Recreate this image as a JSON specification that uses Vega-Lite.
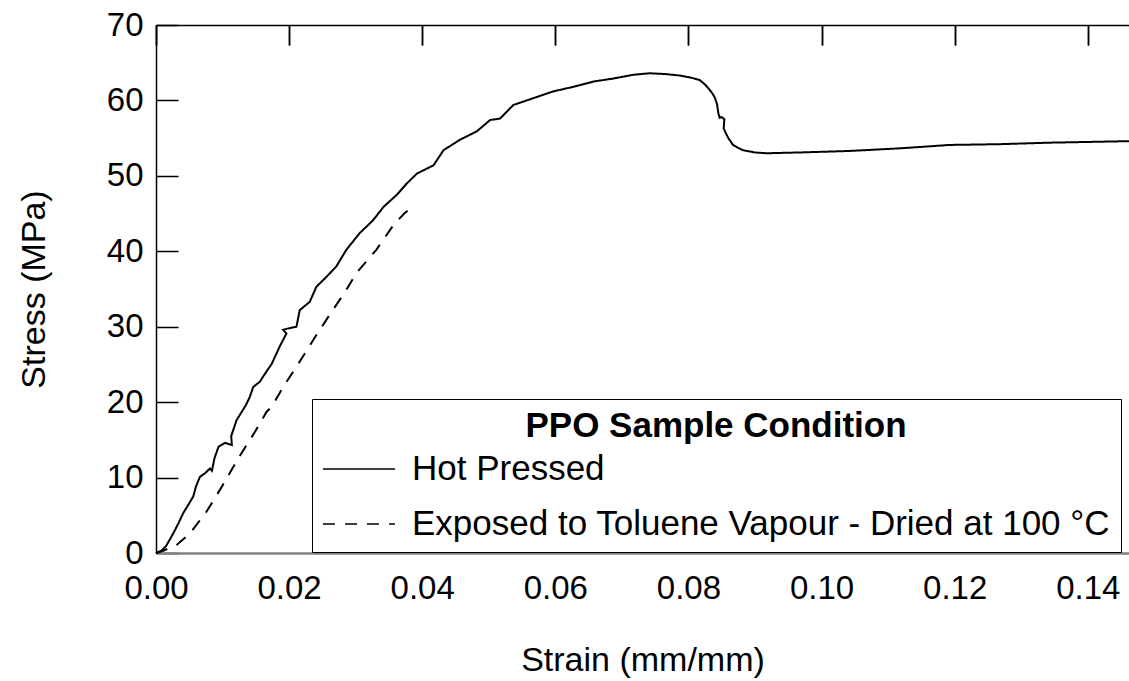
{
  "$schema": "https://vega.github.io/schema/vega-lite/v6.json",
  "width": 973,
  "height": 528,
  "autosize": {"type": "none"},
  "padding": {"left": 156, "top": 25, "right": 0, "bottom": 128},
  "background": "white",
  "config": {
    "view": {"stroke": null},
    "font": "Liberation Sans",
    "axis": {"grid": false, "labelColor": "black", "titleColor": "black", "titleFontWeight": "normal", "tickColor": "black", "domainColor": "black"}
  },
  "datasets": {
    "curves": [
      {"series": "Hot Pressed", "i": 1, "strain": 0.0, "stress": 0.0},
      {"series": "Hot Pressed", "i": 2, "strain": 0.0008, "stress": 0.3},
      {"series": "Hot Pressed", "i": 3, "strain": 0.0015, "stress": 0.9},
      {"series": "Hot Pressed", "i": 4, "strain": 0.0026, "stress": 2.6},
      {"series": "Hot Pressed", "i": 5, "strain": 0.0034, "stress": 4.0},
      {"series": "Hot Pressed", "i": 6, "strain": 0.0041, "stress": 5.3},
      {"series": "Hot Pressed", "i": 7, "strain": 0.005, "stress": 6.6},
      {"series": "Hot Pressed", "i": 8, "strain": 0.0056, "stress": 7.5},
      {"series": "Hot Pressed", "i": 9, "strain": 0.006, "stress": 8.8},
      {"series": "Hot Pressed", "i": 10, "strain": 0.0066, "stress": 10.1},
      {"series": "Hot Pressed", "i": 11, "strain": 0.0074, "stress": 10.6},
      {"series": "Hot Pressed", "i": 12, "strain": 0.0081, "stress": 11.2},
      {"series": "Hot Pressed", "i": 13, "strain": 0.0084, "stress": 10.9},
      {"series": "Hot Pressed", "i": 14, "strain": 0.0088, "stress": 12.6},
      {"series": "Hot Pressed", "i": 15, "strain": 0.0094, "stress": 14.1},
      {"series": "Hot Pressed", "i": 16, "strain": 0.0104, "stress": 14.6},
      {"series": "Hot Pressed", "i": 17, "strain": 0.0114, "stress": 14.3},
      {"series": "Hot Pressed", "i": 18, "strain": 0.0113, "stress": 15.5},
      {"series": "Hot Pressed", "i": 19, "strain": 0.0121, "stress": 17.6},
      {"series": "Hot Pressed", "i": 20, "strain": 0.0128, "stress": 18.6},
      {"series": "Hot Pressed", "i": 21, "strain": 0.0135, "stress": 19.6},
      {"series": "Hot Pressed", "i": 22, "strain": 0.0141, "stress": 20.7},
      {"series": "Hot Pressed", "i": 23, "strain": 0.0146, "stress": 22.0},
      {"series": "Hot Pressed", "i": 24, "strain": 0.0156, "stress": 22.7},
      {"series": "Hot Pressed", "i": 25, "strain": 0.0161, "stress": 23.4},
      {"series": "Hot Pressed", "i": 26, "strain": 0.0174, "stress": 25.1},
      {"series": "Hot Pressed", "i": 27, "strain": 0.0186, "stress": 27.4},
      {"series": "Hot Pressed", "i": 28, "strain": 0.0196, "stress": 29.1},
      {"series": "Hot Pressed", "i": 29, "strain": 0.0191, "stress": 29.6},
      {"series": "Hot Pressed", "i": 30, "strain": 0.02, "stress": 29.8},
      {"series": "Hot Pressed", "i": 31, "strain": 0.0211, "stress": 30.0},
      {"series": "Hot Pressed", "i": 32, "strain": 0.0216, "stress": 32.2},
      {"series": "Hot Pressed", "i": 33, "strain": 0.0231, "stress": 33.3},
      {"series": "Hot Pressed", "i": 34, "strain": 0.0241, "stress": 35.3},
      {"series": "Hot Pressed", "i": 35, "strain": 0.0256, "stress": 36.6},
      {"series": "Hot Pressed", "i": 36, "strain": 0.0271, "stress": 38.0},
      {"series": "Hot Pressed", "i": 37, "strain": 0.0286, "stress": 40.2},
      {"series": "Hot Pressed", "i": 38, "strain": 0.0306, "stress": 42.4},
      {"series": "Hot Pressed", "i": 39, "strain": 0.0326, "stress": 44.1},
      {"series": "Hot Pressed", "i": 40, "strain": 0.0342, "stress": 45.9},
      {"series": "Hot Pressed", "i": 41, "strain": 0.0362, "stress": 47.5},
      {"series": "Hot Pressed", "i": 42, "strain": 0.0377, "stress": 49.0},
      {"series": "Hot Pressed", "i": 43, "strain": 0.0392, "stress": 50.3},
      {"series": "Hot Pressed", "i": 44, "strain": 0.0417, "stress": 51.4},
      {"series": "Hot Pressed", "i": 45, "strain": 0.0432, "stress": 53.4},
      {"series": "Hot Pressed", "i": 46, "strain": 0.0457, "stress": 54.8},
      {"series": "Hot Pressed", "i": 47, "strain": 0.0482, "stress": 55.9},
      {"series": "Hot Pressed", "i": 48, "strain": 0.0502, "stress": 57.4},
      {"series": "Hot Pressed", "i": 49, "strain": 0.0517, "stress": 57.6},
      {"series": "Hot Pressed", "i": 50, "strain": 0.0537, "stress": 59.4},
      {"series": "Hot Pressed", "i": 51, "strain": 0.0567, "stress": 60.3},
      {"series": "Hot Pressed", "i": 52, "strain": 0.0597, "stress": 61.2},
      {"series": "Hot Pressed", "i": 53, "strain": 0.0627, "stress": 61.8},
      {"series": "Hot Pressed", "i": 54, "strain": 0.0657, "stress": 62.5},
      {"series": "Hot Pressed", "i": 55, "strain": 0.0687, "stress": 62.9},
      {"series": "Hot Pressed", "i": 56, "strain": 0.0717, "stress": 63.4},
      {"series": "Hot Pressed", "i": 57, "strain": 0.0742, "stress": 63.6},
      {"series": "Hot Pressed", "i": 58, "strain": 0.0765, "stress": 63.5},
      {"series": "Hot Pressed", "i": 59, "strain": 0.0787, "stress": 63.3},
      {"series": "Hot Pressed", "i": 60, "strain": 0.0805, "stress": 63.0},
      {"series": "Hot Pressed", "i": 61, "strain": 0.0817, "stress": 62.7},
      {"series": "Hot Pressed", "i": 62, "strain": 0.0825, "stress": 62.1},
      {"series": "Hot Pressed", "i": 63, "strain": 0.0832, "stress": 61.4},
      {"series": "Hot Pressed", "i": 64, "strain": 0.0837, "stress": 60.8},
      {"series": "Hot Pressed", "i": 65, "strain": 0.084, "stress": 60.3},
      {"series": "Hot Pressed", "i": 66, "strain": 0.0843, "stress": 59.5},
      {"series": "Hot Pressed", "i": 67, "strain": 0.0845, "stress": 58.3},
      {"series": "Hot Pressed", "i": 68, "strain": 0.0847, "stress": 57.7},
      {"series": "Hot Pressed", "i": 69, "strain": 0.085, "stress": 57.8},
      {"series": "Hot Pressed", "i": 70, "strain": 0.0854, "stress": 57.5},
      {"series": "Hot Pressed", "i": 71, "strain": 0.0853, "stress": 56.3},
      {"series": "Hot Pressed", "i": 72, "strain": 0.0856, "stress": 55.7},
      {"series": "Hot Pressed", "i": 73, "strain": 0.086, "stress": 55.0},
      {"series": "Hot Pressed", "i": 74, "strain": 0.0867, "stress": 54.1},
      {"series": "Hot Pressed", "i": 75, "strain": 0.0875, "stress": 53.7},
      {"series": "Hot Pressed", "i": 76, "strain": 0.0882, "stress": 53.4},
      {"series": "Hot Pressed", "i": 77, "strain": 0.09, "stress": 53.1},
      {"series": "Hot Pressed", "i": 78, "strain": 0.0918, "stress": 53.0},
      {"series": "Hot Pressed", "i": 79, "strain": 0.0967, "stress": 53.1},
      {"series": "Hot Pressed", "i": 80, "strain": 0.1042, "stress": 53.3},
      {"series": "Hot Pressed", "i": 81, "strain": 0.1118, "stress": 53.65},
      {"series": "Hot Pressed", "i": 82, "strain": 0.1193, "stress": 54.1},
      {"series": "Hot Pressed", "i": 83, "strain": 0.1268, "stress": 54.2},
      {"series": "Hot Pressed", "i": 84, "strain": 0.1343, "stress": 54.4},
      {"series": "Hot Pressed", "i": 85, "strain": 0.1462, "stress": 54.6},
      {"series": "Exposed to Toluene Vapour - Dried at 100 °C", "i": 1, "strain": 0.0, "stress": 0.0},
      {"series": "Exposed to Toluene Vapour - Dried at 100 °C", "i": 2, "strain": 0.0011, "stress": 0.3},
      {"series": "Exposed to Toluene Vapour - Dried at 100 °C", "i": 3, "strain": 0.0031, "stress": 1.06},
      {"series": "Exposed to Toluene Vapour - Dried at 100 °C", "i": 4, "strain": 0.0051, "stress": 2.6},
      {"series": "Exposed to Toluene Vapour - Dried at 100 °C", "i": 5, "strain": 0.0076, "stress": 5.5},
      {"series": "Exposed to Toluene Vapour - Dried at 100 °C", "i": 6, "strain": 0.0099, "stress": 8.8},
      {"series": "Exposed to Toluene Vapour - Dried at 100 °C", "i": 7, "strain": 0.0124, "stress": 12.6},
      {"series": "Exposed to Toluene Vapour - Dried at 100 °C", "i": 8, "strain": 0.0149, "stress": 16.1},
      {"series": "Exposed to Toluene Vapour - Dried at 100 °C", "i": 9, "strain": 0.0166, "stress": 18.7},
      {"series": "Exposed to Toluene Vapour - Dried at 100 °C", "i": 10, "strain": 0.0174, "stress": 19.4},
      {"series": "Exposed to Toluene Vapour - Dried at 100 °C", "i": 11, "strain": 0.0191, "stress": 22.0},
      {"series": "Exposed to Toluene Vapour - Dried at 100 °C", "i": 12, "strain": 0.0214, "stress": 25.1},
      {"series": "Exposed to Toluene Vapour - Dried at 100 °C", "i": 13, "strain": 0.0236, "stress": 28.2},
      {"series": "Exposed to Toluene Vapour - Dried at 100 °C", "i": 14, "strain": 0.0261, "stress": 31.6},
      {"series": "Exposed to Toluene Vapour - Dried at 100 °C", "i": 15, "strain": 0.0284, "stress": 34.6},
      {"series": "Exposed to Toluene Vapour - Dried at 100 °C", "i": 16, "strain": 0.0301, "stress": 37.1},
      {"series": "Exposed to Toluene Vapour - Dried at 100 °C", "i": 17, "strain": 0.0331, "stress": 40.2},
      {"series": "Exposed to Toluene Vapour - Dried at 100 °C", "i": 18, "strain": 0.0357, "stress": 43.5},
      {"series": "Exposed to Toluene Vapour - Dried at 100 °C", "i": 19, "strain": 0.0373, "stress": 45.0},
      {"series": "Exposed to Toluene Vapour - Dried at 100 °C", "i": 20, "strain": 0.0389, "stress": 46.2}
    ]
  },
  "data": {"name": "curves"},
  "layer": [
    {
      "mark": {"type": "line", "color": "black", "strokeWidth": 2},
      "encoding": {
        "x": {
          "field": "strain", "type": "quantitative",
          "scale": {"domain": [0, 0.1462], "nice": false, "zero": false},
          "axis": {
            "orient": "bottom", "values": [0, 0.02, 0.04, 0.06, 0.08, 0.1, 0.12, 0.14], "format": ".2f",
            "labelFontSize": 33, "labelPadding": 19, "labelFlush": false, "labelOverlap": false,
            "ticks": false, "domainColor": "#808080", "domainWidth": 2.5,
            "grid": true, "gridColor": "black", "gridWidth": 1.5, "gridDash": [20, 3000], "gridOpacity": 1,
            "title": "Strain (mm/mm)", "titleFontSize": 34, "titlePadding": 38
          }
        },
        "y": {
          "field": "stress", "type": "quantitative",
          "scale": {"domain": [0, 70], "nice": false},
          "axis": {
            "orient": "left",
            "values": [0, 10, 20, 30, 40, 50, 60, 70],
            "labelFontSize": 33, "labelPadding": 13, "labelFlush": false, "labelOverlap": false,
            "ticks": false, "domainWidth": 1.5,
            "grid": true, "gridColor": "black", "gridWidth": 1.5, "gridDash": [22, 3000], "gridOpacity": 1,
            "title": "Stress (MPa)", "titleFontSize": 34, "titlePadding": 55
          }
        },
        "strokeDash": {
          "field": "series", "type": "nominal",
          "scale": {"domain": ["Hot Pressed", "Exposed to Toluene Vapour - Dried at 100 °C"], "range": [[1, 0], [12, 10]]},
          "legend": {
            "orient": "none", "legendX": 156, "legendY": 374,
            "title": "PPO Sample Condition", "titleFontSize": 35, "titleFontWeight": "bold", "titleColor": "black",
            "titleAnchor": "middle", "titlePadding": -12, "titleLimit": 3000,
            "labelFontSize": 35, "labelColor": "black", "labelLimit": 3000, "labelOffset": 16,
            "symbolType": "M-1,0H1", "symbolSize": 5184, "symbolStrokeWidth": 1.5, "symbolStrokeColor": "black", "symbolFillColor": "transparent",
            "rowPadding": -2, "padding": 10, "strokeColor": "black", "fillColor": "white"
          }
        },
        "order": {"field": "i", "type": "quantitative"}
      }
    },
    {
      "mark": {"type": "point", "opacity": 0},
      "encoding": {
        "x": {
          "field": "strain", "type": "quantitative",
          "scale": {"domain": [0, 0.1462], "nice": false, "zero": false},
          "axis": {
            "orient": "top", "values": [0, 0.02, 0.04, 0.06, 0.08, 0.1, 0.12, 0.14],
            "labels": false, "title": null, "tickSize": -20, "tickWidth": 1.5, "domainWidth": 1.5
          }
        }
      }
    }
  ],
  "resolve": {"axis": {"x": "independent"}}
}
